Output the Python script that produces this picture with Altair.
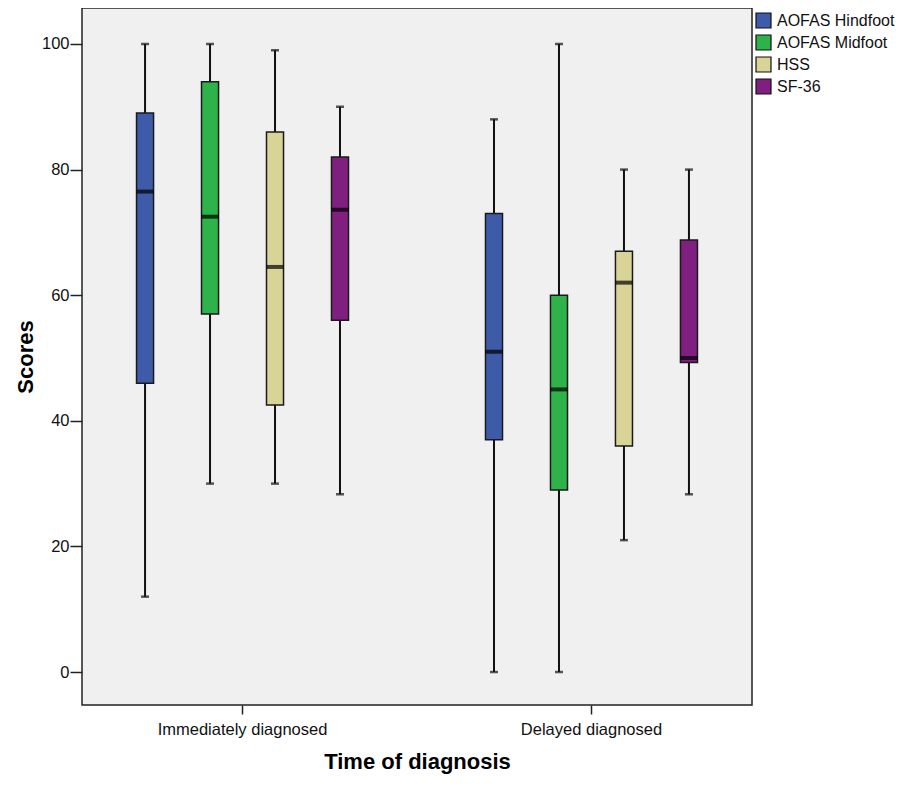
import altair as alt
import pandas as pd

groups = ["Immediately diagnosed"] * 4 + ["Delayed diagnosed"] * 4
measures = ["AOFAS Hindfoot", "AOFAS Midfoot", "HSS", "SF-36"] * 2
whisker_low = [12, 30, 30, 28.3, 0, 0, 21, 28.3]
q1 = [46, 57, 42.5, 56, 37, 29, 36, 49.3]
median = [76.5, 72.5, 64.5, 73.6, 51, 45, 62, 50]
q3 = [89, 94, 86, 82, 73, 60, 67, 68.8]
whisker_high = [100, 100, 99, 90, 88, 100, 80, 80]

group_order = ["Immediately diagnosed", "Delayed diagnosed"]
measure_order = ["AOFAS Hindfoot", "AOFAS Midfoot", "HSS", "SF-36"]
colors = ["#3E5BA9", "#2EB34A", "#D8D396", "#7F1F7F"]

df = pd.DataFrame({
    "group": groups, "measure": measures, "low": whisker_low, "q1": q1,
    "median": median, "q3": q3, "high": whisker_high,
})

FONT = "Liberation Sans"

x_enc = alt.X("group:N", sort=group_order, title="Time of diagnosis",
              scale=alt.Scale(paddingInner=0.2, paddingOuter=0.06),
              axis=alt.Axis(labelAngle=0, domain=False, tickSize=9, labelPadding=7,
                            tickColor="#222", tickWidth=1.5, titlePadding=14,
                            labelFontSize=16.5, titleFontSize=22, titleFontWeight="bold",
                            labelFont=FONT, titleFont=FONT, labelColor="#111", titleColor="#000"))
xo_enc = alt.XOffset("measure:N", sort=measure_order,
                     scale=alt.Scale(paddingInner=0.738, paddingOuter=0.517))
y_scale = alt.Scale(domain=[-5.25, 105.73], nice=False, zero=False)
y_axis = alt.Axis(values=[0, 20, 40, 60, 80, 100], grid=False, domain=False, tickSize=12,
                  labelPadding=1, tickColor="#222", tickWidth=1.5, titlePadding=4,
                  labelFontSize=16.5, titleFontSize=22, titleFontWeight="bold",
                  labelFont=FONT, titleFont=FONT, labelColor="#111", titleColor="#000")

base = alt.Chart(df)

whiskers = base.mark_rule(color="#111", strokeWidth=2).encode(
    x=x_enc, xOffset=xo_enc,
    y=alt.Y("low:Q", scale=y_scale, axis=y_axis, title="Scores"),
    y2="high:Q",
)
cap_top = base.mark_tick(color="#111", size=8, thickness=2.5).encode(
    x=x_enc, xOffset=xo_enc,
    y=alt.Y("high:Q", scale=y_scale, axis=y_axis, title="Scores"),
)
cap_low = base.mark_tick(color="#111", size=8, thickness=2.5).encode(
    x=x_enc, xOffset=xo_enc,
    y=alt.Y("low:Q", scale=y_scale, axis=y_axis, title="Scores"),
)
boxes = base.mark_bar(stroke="#1a1a1a", strokeWidth=1.5, opacity=1).encode(
    x=x_enc, xOffset=xo_enc,
    y=alt.Y("q1:Q", scale=y_scale, axis=y_axis, title="Scores"),
    y2="q3:Q",
    color=alt.Color("measure:N", sort=measure_order,
                    scale=alt.Scale(domain=measure_order, range=colors),
                    legend=alt.Legend(title=None, orient="none", legendX=673, legendY=4,
                                      symbolType="square", symbolSize=225,
                                      symbolStrokeColor="#111", symbolStrokeWidth=1.2,
                                      symbolOpacity=1, labelFontSize=16, labelFont=FONT,
                                      labelColor="#111", labelOffset=5, rowPadding=1,
                                      labelLimit=300, padding=0)),
)
medians = base.mark_tick(color="#000", size=17, thickness=4).encode(
    x=x_enc, xOffset=xo_enc,
    y=alt.Y("median:Q", scale=y_scale, axis=y_axis, title="Scores"),
)

chart = alt.layer(whiskers, cap_top, cap_low, boxes, medians).properties(
    width=670, height=697,
    autosize=alt.AutoSizeParams(type="none"),
    padding={"left": 74, "top": 0, "right": 145, "bottom": 72},
    background="white",
).configure_view(
    fill="#F0F0F0", stroke="#222", strokeWidth=1.5,
)

chart.save("out.html", embed_options={"renderer": "svg", "actions": False})
